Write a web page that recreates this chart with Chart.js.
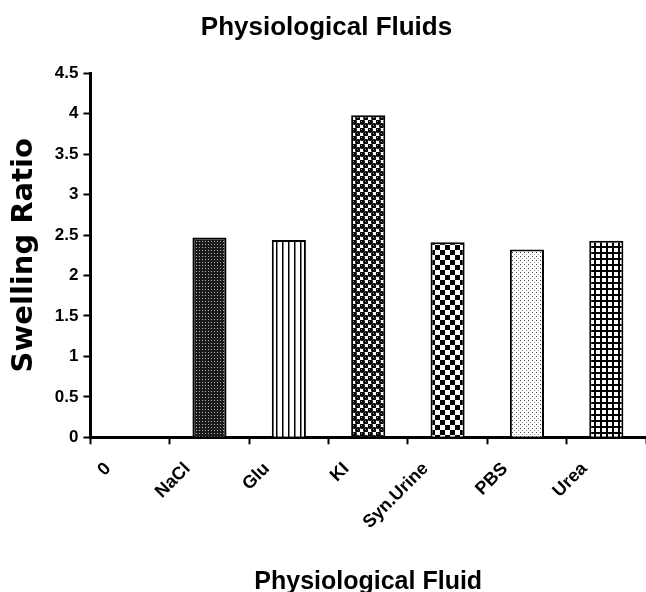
<!DOCTYPE html>
<html>
<head>
<meta charset="utf-8">
<script src="https://cdn.jsdelivr.net/npm/chart.js@4"></script>
<style>
  html, body { margin: 0; padding: 0; background: #fff; }
  #wrap { width: 646px; height: 592px; position: relative; }
</style>
</head>
<body>
<div id="wrap"><canvas id="chart"></canvas></div>
<script>
const fluids = ["0", "NaCl", "Glu", "KI", "Syn.Urine", "PBS", "Urea"];
const swellingRatio = [0, 2.47, 2.44, 3.98, 2.41, 2.32, 2.43];
const yTicks = [0, 0.5, 1, 1.5, 2, 2.5, 3, 3.5, 4, 4.5];

// small tiled fills, one per fluid
function makePattern(w, h, draw) {
  const c = document.createElement("canvas");
  c.width = w;
  c.height = h;
  const g = c.getContext("2d");
  g.fillStyle = "#fff";
  g.fillRect(0, 0, w, h);
  draw(g);
  return document.getElementById("chart").getContext("2d").createPattern(c, "repeat");
}

const fills = [
  "#fff",
  makePattern(3, 3, (g) => {
    g.fillStyle = "#1a1a1a";
    g.fillRect(0, 0, 3, 3);
    g.fillStyle = "#b0b0b0";
    g.fillRect(1, 1, 1, 1);
  }),
  makePattern(6, 1, (g) => {
    g.fillStyle = "#000";
    g.fillRect(0, 0, 1.5, 1);
  }),
  makePattern(8, 8, (g) => {
    g.fillStyle = "#000";
    g.beginPath();
    g.arc(2, 2, 2.9, 0, Math.PI * 2);
    g.fill();
    g.beginPath();
    g.arc(6, 6, 2.9, 0, Math.PI * 2);
    g.fill();
    g.fillStyle = "#999";
    g.fillRect(1, 1, 1, 1);
    g.fillRect(5, 5, 1, 1);
  }),
  makePattern(10, 10, (g) => {
    g.fillStyle = "#000";
    g.fillRect(0, 0, 5, 5);
    g.fillRect(5, 5, 5, 5);
  }),
  makePattern(4, 4, (g) => {
    g.fillStyle = "#444";
    g.fillRect(0, 0, 1, 1);
    g.fillStyle = "#999";
    g.fillRect(2, 2, 1, 1);
  }),
  makePattern(6, 6, (g) => {
    g.fillStyle = "#000";
    g.fillRect(0, 0, 6, 6);
    g.fillStyle = "#fff";
    g.fillRect(2, 2, 4, 4);
  })
];

const font = "'Liberation Sans', Arial, sans-serif";

new Chart(document.getElementById("chart"), {
  type: "bar",
  data: {
    labels: fluids,
    datasets: [
      {
        data: swellingRatio,
        backgroundColor: fills,
        borderColor: "#000",
        borderWidth: 2,
        categoryPercentage: 0.86,
        barPercentage: 0.5
      }
    ]
  },
  options: {
    responsive: true,
    maintainAspectRatio: false,
    animation: false,
    layout: { padding: { top: 4, right: 0, bottom: -5, left: 7 } },
    plugins: {
      legend: { display: false },
      tooltip: { enabled: false },
      title: {
        display: true,
        text: "Physiological Fluids",
        color: "#000",
        font: { family: font, size: 26, weight: "bold" },
        padding: { top: 8, bottom: 30 }
      }
    },
    scales: {
      x: {
        offset: true,
        grid: {
          offset: true,
          drawOnChartArea: false,
          tickLength: 7,
          tickWidth: 2,
          tickColor: "#000"
        },
        border: { color: "#000", width: 3 },
        ticks: {
          color: "#000",
          font: { family: font, size: 18, weight: "bold" },
          minRotation: 45,
          maxRotation: 45,
          labelOffset: -22,
          padding: 14
        },
        title: {
          display: true,
          text: "Physiological Fluid",
          color: "#000",
          font: { family: font, size: 25, weight: "bold" },
          padding: { top: 20, bottom: 0 }
        }
      },
      y: {
        min: 0,
        max: 4.5,
        afterBuildTicks: (axis) => {
          axis.ticks = yTicks.map((v) => ({ value: v }));
        },
        grid: {
          drawOnChartArea: false,
          tickLength: 7,
          tickWidth: 2,
          tickColor: "#000"
        },
        border: { color: "#000", width: 3 },
        ticks: {
          color: "#000",
          font: { family: font, size: 17, weight: "bold" },
          padding: 5,
          callback: (v) => String(v)
        },
        title: {
          display: true,
          text: "Swelling Ratio",
          color: "#000",
          font: { family: "'DejaVu Sans', sans-serif", size: 29, weight: "bold" },
          padding: { top: 0, bottom: 8 }
        }
      }
    }
  }
});
</script>
</body>
</html>
